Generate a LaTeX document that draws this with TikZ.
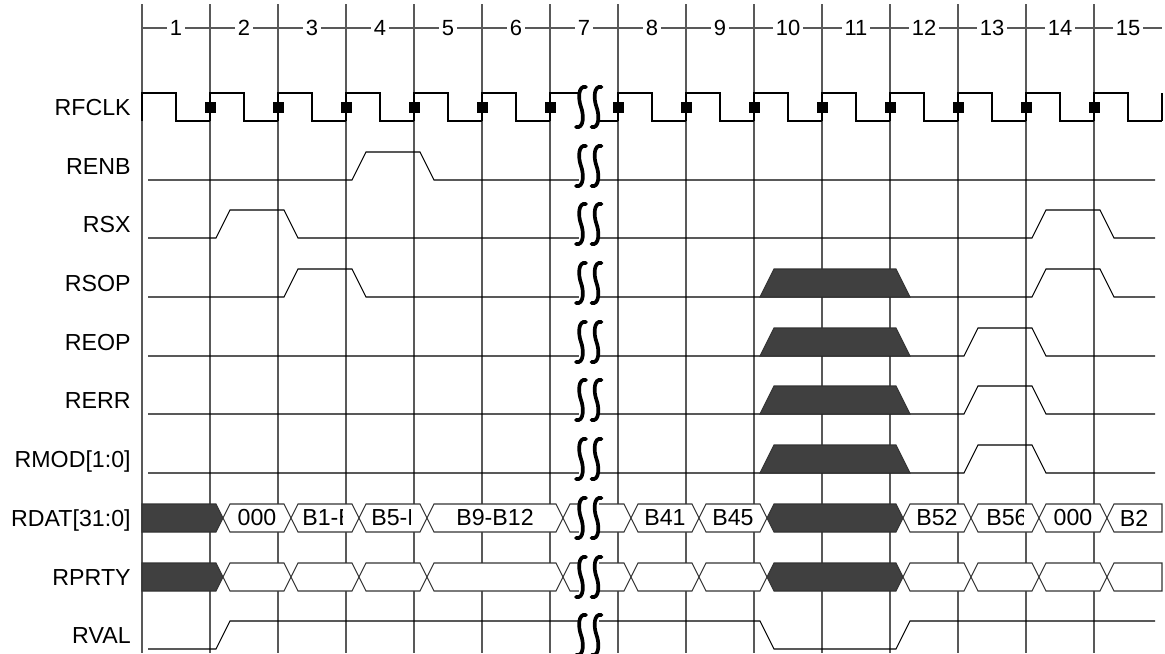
\documentclass[tikz,border=0pt]{standalone}
\usepackage{fontspec}
\setmainfont{Liberation Sans}

% bus segment between two crossing points, and the break mark
\newcommand{\hexseg}[2]{\draw[wseg] (#1,0) -- (#1+7,-14) -- (#2-7,-14) -- (#2,0) -- (#2-7,14) -- (#1+7,14) -- cycle;}
\newcommand{\darkseg}[2]{\draw[dseg] (#1,0) -- (#1+7,-14) -- (#2-7,-14) -- (#2,0) -- (#2-7,14) -- (#1+7,14) -- cycle;}
\newcommand{\trapez}{\draw[dseg] (760,14) -- (774,-14) -- (896,-14) -- (910,14) -- cycle;}
\newcommand{\brkmark}{%
  \fill[white] (579,-17) rectangle (599,17);
  \draw[brk] (586,-20) .. controls (578,-22) and (578,-8) .. (581,0) .. controls (584,8) and (584,22) .. (576,20);
  \draw[brk] (601.5,-20) .. controls (593.5,-22) and (593.5,-8) .. (596.5,0) .. controls (599.5,8) and (599.5,22) .. (591.5,20);}

\begin{document}
\begin{tikzpicture}[x=0.02cm, y=-0.02cm,
    grid/.style={draw=black!65, line width=0.6pt},
    sig/.style={draw=black, line width=0.6pt},
    wseg/.style={draw=black!80, fill=white, line width=0.6pt},
    dseg/.style={draw=black!80, fill=black!75, line width=0.6pt},
    brk/.style={draw=black, line width=2.1pt, line cap=round},
    lbl/.style={anchor=base east, inner sep=0pt, font=\fontsize{13.2}{15}\selectfont},
    num/.style={fill=white, inner sep=1.5pt, font=\fontsize{12.5}{14}\selectfont},
    dat/.style={inner sep=0pt, font=\fontsize{13.2}{15}\selectfont}
  ]
  \useasboundingbox (0,0) rectangle (1165,653);

  % --- grid and cycle numbers ---
  \foreach \k in {0,...,14} \draw[grid] ({142+68*\k},4) -- ({142+68*\k},653);
  \draw[grid] (142,28) -- (1162,28);
  \foreach \k in {1,...,15} \node[num] (n\k) at ({108+68*\k},28) {\k};

  % --- signal names ---
  \node[lbl] (lrfclk) at (131,115) {RFCLK};
  \node[lbl] (lrenb) at (131,174) {RENB};
  \node[lbl] (lrsx) at (131,232) {RSX};
  \node[lbl] (lrsop) at (131,291) {RSOP};
  \node[lbl] (lreop) at (131,350) {REOP};
  \node[lbl] (lrerr) at (131,408) {RERR};
  \node[lbl] (lrmod) at (131,467) {RMOD[1:0]};
  \node[lbl] (lrdat) at (131,526) {RDAT[31:0]};
  \node[lbl] (lrprty) at (131,585) {RPRTY};
  \node[lbl] (lrval) at (131,643) {RVAL};

  % --- RFCLK ---
  \begin{scope}[shift={(0,107)}]
    \foreach \x in {142,210,...,1094}
      \draw[sig] (\x,14) -- (\x,-14) -- (\x+34,-14) -- (\x+34,14) -- (\x+68,14);
    \draw[sig] (1162,14) -- (1162,-14);
    \foreach \x in {210,278,...,1094} \fill (\x-5.5,-5.5) rectangle (\x+5.5,5.5);
  \end{scope}

  % --- RENB, RSX ---
  \begin{scope}[shift={(0,166)}]
    \draw[sig] (148,14) -- (352,14) -- (366,-14) -- (420,-14) -- (434,14) -- (1155,14);
  \end{scope}
  \begin{scope}[shift={(0,224)}]
    \draw[sig] (148,14) -- (216,14) -- (230,-14) -- (284,-14) -- (298,14) -- (1032,14)
      -- (1046,-14) -- (1100,-14) -- (1114,14) -- (1155,14);
  \end{scope}

  % --- RSOP ---
  \begin{scope}[shift={(0,283)}]
    \draw[sig] (148,14) -- (284,14) -- (298,-14) -- (352,-14) -- (366,14) -- (1032,14)
      -- (1046,-14) -- (1100,-14) -- (1114,14) -- (1155,14);
    \trapez
  \end{scope}

  % --- REOP, RERR, RMOD ---
  \foreach \y in {342,400,459} {
    \begin{scope}[shift={(0,\y)}]
      \draw[sig] (148,14) -- (964,14) -- (978,-14) -- (1032,-14) -- (1046,14) -- (1155,14);
      \trapez
    \end{scope}
  }

  % --- RDAT ---
  \begin{scope}[shift={(0,518)}]
    \draw[dseg] (142,-14) -- (216,-14) -- (223,0) -- (216,14) -- (142,14) -- cycle;
    \hexseg{223}{291} \hexseg{291}{359} \hexseg{359}{427} \hexseg{427}{563}
    \hexseg{563}{631} \hexseg{631}{699} \hexseg{699}{767} \darkseg{767}{903}
    \hexseg{903}{971} \hexseg{971}{1039} \hexseg{1039}{1107}
    \draw[wseg] (1107,0) -- (1114,-14) -- (1162,-14) -- (1162,14) -- (1114,14) -- cycle;
    \node[dat] (d2) at (257,0) {000};
    \begin{scope}
      \clip (291,-14) rectangle (342.3,14);
      \node[dat, anchor=west] (d3) at (302,0) {B1-B4};
    \end{scope}
    \begin{scope}
      \clip (359,-14) rectangle (410.3,14);
      \node[dat, anchor=west] (d4) at (371,0) {B5-B8};
    \end{scope}
    \node[dat] (d5) at (495,0) {B9-B12};
    \node[dat] (d8) at (665,0) {B41};
    \node[dat] (d9) at (733,0) {B45};
    \node[dat] (d12) at (937,0) {B52};
    \begin{scope}
      \clip (971,-14) rectangle (1023,14);
      \node[dat, anchor=west] (d13) at (986,0) {B56};
    \end{scope}
    \node[dat] (d14) at (1073,0) {000};
    \node[dat] (d15) at (1134,0) {B2};
  \end{scope}

  % --- RPRTY ---
  \begin{scope}[shift={(0,577)}]
    \draw[dseg] (142,-14) -- (216,-14) -- (223,0) -- (216,14) -- (142,14) -- cycle;
    \hexseg{223}{291} \hexseg{291}{359} \hexseg{359}{427} \hexseg{427}{563}
    \hexseg{563}{631} \hexseg{631}{699} \hexseg{699}{767} \darkseg{767}{903}
    \hexseg{903}{971} \hexseg{971}{1039} \hexseg{1039}{1107}
    \draw[wseg] (1107,0) -- (1114,-14) -- (1162,-14) -- (1162,14) -- (1114,14) -- cycle;
  \end{scope}

  % --- RVAL ---
  \begin{scope}[shift={(0,635)}]
    \draw[sig] (148,14) -- (216,14) -- (230,-14) -- (760,-14) -- (774,14) -- (896,14)
      -- (910,-14) -- (1155,-14);
  \end{scope}

  % --- break marks (cycle 7) ---
  \foreach \y in {107,166,224,283,342,400,459,518,577,635} {
    \begin{scope}[shift={(0,\y)}]
      \brkmark
    \end{scope}
  }
\end{tikzpicture}
\end{document}
